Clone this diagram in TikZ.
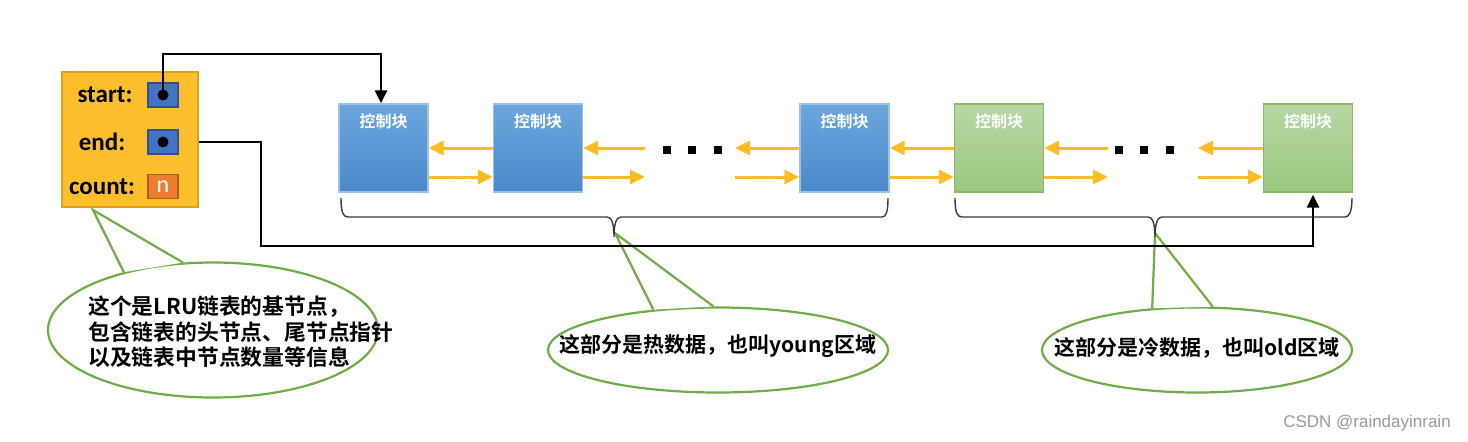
\documentclass[tikz,border=0pt]{standalone}
\usepackage{fontspec}
\setmainfont{Carlito}
\newfontfamily\cjk{Noto Sans CJK SC Bold}
\newfontfamily\wmfont{Liberation Sans}
\usetikzlibrary{shapes.geometric,arrows.meta}
\definecolor{yfill}{HTML}{FBBE2D}
\definecolor{yedge}{HTML}{DDA21C}
\definecolor{sqblue}{HTML}{4472C4}
\definecolor{sqblueedge}{HTML}{2F528F}
\definecolor{sqorange}{HTML}{ED7D31}
\definecolor{sqorangeedge}{HTML}{B05A20}
\definecolor{bluetop}{HTML}{6CA6DD}
\definecolor{bluebot}{HTML}{4A89CA}
\definecolor{blueedge}{HTML}{9CC2E5}
\definecolor{greentop}{HTML}{B6D7A2}
\definecolor{greenbot}{HTML}{9BC880}
\definecolor{greenedge}{HTML}{86BC66}
\definecolor{oarrow}{HTML}{FFBC22}
\definecolor{callgreen}{HTML}{70AD47}
\definecolor{bracegray}{HTML}{3A3A3A}
\definecolor{wmgray}{HTML}{9A9A9A}
\begin{document}
\begin{tikzpicture}[x=1pt,y=-1pt,
  ctrlblue/.style={draw=blueedge,line width=1.2pt,top color=bluetop,bottom color=bluebot,
    minimum width=89pt,minimum height=88pt,inner sep=0pt},
  ctrlgreen/.style={draw=greenedge,line width=1.2pt,top color=greentop,bottom color=greenbot,
    minimum width=89pt,minimum height=88pt,inner sep=0pt},
  blocktxt/.style={text=white,font=\cjk\fontsize{16}{18}\selectfont,inner sep=0pt},
  oarr/.style={draw=oarrow,line width=3pt,-{Triangle[length=15pt,width=14pt]}},
  dotsq/.style={fill=black,minimum size=8.5pt,inner sep=0pt},
  blkline/.style={draw=black,line width=2.8pt,-{Triangle[length=13pt,width=12pt]}},
  bracestyle/.style={draw=bracegray,line width=1.4pt},
  lbl/.style={font=\bfseries\fontsize{25}{30}\selectfont,inner sep=0pt},
  sqb/.style={fill=sqblue,draw=sqblueedge,line width=1.2pt,minimum width=30pt,minimum height=24pt,inner sep=0pt},
  sqo/.style={fill=sqorange,draw=sqorangeedge,line width=1.2pt,minimum width=30pt,minimum height=24pt,inner sep=0pt},
  callell/.style={ellipse,draw=callgreen,fill=white,line width=2.2pt,inner sep=0pt},
  wedgeline/.style={draw=callgreen,line width=2.2pt,line join=miter},
  calltxt/.style={font=\cjk\fontsize{21}{25}\selectfont,inner sep=0pt}
]
\useasboundingbox (0,0) rectangle (1468,442);

% ---- callouts ----
\node[callell,minimum width=330pt,minimum height=135pt] (e1) at (213,330) {};
\node[callell,minimum width=340pt,minimum height=85pt] (e2) at (718,350) {};
\node[callell,minimum width=310pt,minimum height=85pt] (e3) at (1197,350) {};
\coordinate (p1) at (93,210);
\coordinate (p2) at (615,233);
\coordinate (p3) at (1155,233);
\fill[white] (e1.147.7) -- (p1) -- (e1.114.1) -- cycle;
\fill[white] (e2.148.3) -- (p2) -- (e2.96.6) -- cycle;
\fill[white] (e3.137) -- (p3) -- (e3.70.8) -- cycle;
\draw[wedgeline] (e1.147.7) -- (p1) -- (e1.114.1);
\draw[wedgeline] (e2.148.3) -- (p2) -- (e2.96.6);
\draw[wedgeline] (e3.137) -- (p3) -- (e3.70.8);
\node[calltxt,align=left,anchor=west,font=\cjk\fontsize{21.8}{25.5}\selectfont] (t1) at (88,332)
  {这个是LRU链表的基节点，\\包含链表的头节点、尾节点指针\\以及链表中节点数量等信息};
\node[calltxt] (t2) at (718,346) {这部分是热数据，也叫young区域};
\node[calltxt] (t3) at (1197,348) {这部分是冷数据，也叫old区域};

% ---- base node ----
\node[fill=yfill,draw=yedge,line width=1.5pt,minimum width=136pt,minimum height=135pt,inner sep=0pt] (ybox) at (130,139.5) {};
\node[lbl] (ls) at (105,95) {start:};
\node[lbl] (le) at (102,142) {end:};
\node[lbl] (lc) at (102,186.5) {count:};
\node[sqb] (sq1) at (163,95) {};
\node[sqb] (sq2) at (163,142) {};
\node[sqo,text=white,font=\fontsize{24}{26}\selectfont] (sq3) at (163,186.5) {n};

% ---- blocks ----
\node[ctrlblue] (b1) at (383.5,148) {};
\node[ctrlblue] (b2) at (538,148) {};
\node[ctrlblue] (b3) at (844.5,148) {};
\node[ctrlgreen] (g1) at (999,148) {};
\node[ctrlgreen] (g2) at (1308,148) {};
\foreach \b in {b1,b2,b3,g1,g2}{
  \node[blocktxt] at ([yshift=-18pt]\b.north) {控制块};
}

% ---- orange arrows ----
\coordinate (u1) at (645,148);
\coordinate (d1) at (645,177);
\coordinate (u2) at (735,148);
\coordinate (d2) at (735,177);
\coordinate (u3) at (1108,148);
\coordinate (d3) at (1108,177);
\coordinate (u4) at (1198,148);
\coordinate (d4) at (1198,177);
\draw[oarr] (b2.west) -- (b1.east);
\draw[oarr] ([yshift=-29pt]b1.east) -- ([yshift=-29pt]b2.west);
\draw[oarr] (u1) -- (b2.east);
\draw[oarr] ([yshift=-29pt]b2.east) -- (d1);
\draw[oarr] (b3.west) -- (u2);
\draw[oarr] (d2) -- ([yshift=-29pt]b3.west);
\draw[oarr] (g1.west) -- (b3.east);
\draw[oarr] ([yshift=-29pt]b3.east) -- ([yshift=-29pt]g1.west);
\draw[oarr] (u3) -- (g1.east);
\draw[oarr] ([yshift=-29pt]g1.east) -- (d3);
\draw[oarr] (g2.west) -- (u4);
\draw[oarr] (d4) -- ([yshift=-29pt]g2.west);

% ---- ellipsis dots ----
\node[dotsq] (m1) at (667,150) {};
\node[dotsq] (m2) at (692,150) {};
\node[dotsq] (m3) at (718,150) {};
\node[dotsq] (m4) at (1119,150) {};
\node[dotsq] (m5) at (1144,150) {};
\node[dotsq] (m6) at (1170,150) {};

% ---- braces ----
\draw[bracestyle] (341,198) .. controls (341,212) and (343,217) .. (348,217) -- (607,217)
  .. controls (611,217) and (614,222) .. (614,237) .. controls (614,222) and (617,217) .. (621,217)
  -- (882,217) .. controls (886,217) and (888,212) .. (888,198);
\draw[bracestyle] (955,198) .. controls (955,212) and (957,217) .. (962,217) -- (1148,217)
  .. controls (1152,217) and (1155,222) .. (1155,237) .. controls (1155,222) and (1158,217) .. (1162,217)
  -- (1345,217) .. controls (1349,217) and (1352,212) .. (1352,198);

% ---- pointer lines ----
\coordinate (k1) at (381,54);
\draw[blkline] (sq1.center) |- (k1) -- (k1 |- b1.north);
\coordinate (k2) at (261,246);
\coordinate (k3) at (1313,246);
\draw[blkline,shorten >=2pt] (ybox.east |- sq2.center) -| (k2) -- (k3) -- (k3 |- g2.south);
\fill[black] (sq1.center) circle (5.5pt);
\fill[black] (sq2.center) circle (5.5pt);

% ---- watermark ----
\node[text=wmgray,font=\wmfont\fontsize{17}{20}\selectfont,inner sep=0pt] (wm) at (1367,423) {CSDN @raindayinrain};
\end{tikzpicture}
\end{document}
